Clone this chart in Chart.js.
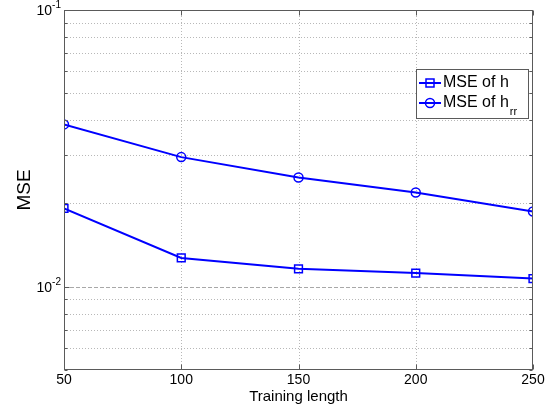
<!DOCTYPE html>
<html><head><meta charset="utf-8">
<script src="https://cdn.jsdelivr.net/npm/chart.js@4/dist/chart.umd.min.js"></script>
<style>html,body{margin:0;padding:0;background:#fff}#wrap{width:554px;height:410px}</style>
</head><body><div id="wrap"><canvas id="c" width="554" height="410"></canvas></div>
<script>
// ---- data ----
const trainingLengths = [50, 100, 150, 200, 250];
const mseH   = [0.0192, 0.0127, 0.0116, 0.0112, 0.0107];
const mseHrr = [0.0386, 0.0294, 0.0248, 0.0219, 0.0187];
const seriesNames = ['MSE of h', 'MSE of h'];
const seriesSubs  = ['', 'rr'];
const seriesMarkers = ['rect', 'circle'];
const xTicks = [50, 100, 150, 200, 250];
const yMajorTicks = [0.01, 0.1];
const yMinorTicks = [0.005, 0.006, 0.007, 0.008, 0.009, 0.02, 0.03, 0.04, 0.05, 0.06, 0.07, 0.08, 0.09];
const xTitle = 'Training length';
const yTitle = 'MSE';

const FONT = "'Liberation Sans', Arial, Helvetica, sans-serif";
const BLUE = '#0000ff';

function mkPoints(vals){ return trainingLengths.map((x,i)=>({x:x, y:vals[i]})); }

const matlabPlugin = {
  id: 'matlab',
  beforeDatasetsDraw(chart){
    const {ctx, chartArea:a, scales:{x, y}} = chart;
    const line=(x1,y1,x2,y2)=>{ctx.beginPath();ctx.moveTo(x1,y1);ctx.lineTo(x2,y2);ctx.stroke();};
    ctx.save();
    ctx.lineWidth = 1;
    ctx.strokeStyle = '#b8b8b8';
    ctx.setLineDash([1,2]);
    xTicks.forEach(v=>{
      if (v <= x.min || v >= x.max) return;
      const px = Math.round(x.getPixelForValue(v)) + 0.5;
      line(px, a.top, px, a.bottom);
    });
    yMinorTicks.forEach(v=>{
      if (v <= y.min || v >= y.max) return;
      const py = Math.round(y.getPixelForValue(v)) + 0.5;
      line(a.left, py, a.right, py);
    });
    ctx.setLineDash([4,2]);
    ctx.strokeStyle = '#a8a8a8';
    yMajorTicks.forEach(v=>{
      if (v <= y.min || v >= y.max) return;
      const py = Math.round(y.getPixelForValue(v)) + 0.5;
      line(a.left, py, a.right, py);
    });
    ctx.restore();
  },
  afterDraw(chart){
    const {ctx, chartArea:a, scales:{x, y}} = chart;
    const line=(x1,y1,x2,y2)=>{ctx.beginPath();ctx.moveTo(x1,y1);ctx.lineTo(x2,y2);ctx.stroke();};
    ctx.save();
    ctx.setLineDash([]);
    ctx.strokeStyle = '#5a5a5a';
    ctx.lineWidth = 1;
    const L = Math.round(a.left)+0.5, R = Math.round(a.right)-0.5, T = Math.round(a.top)+0.5, B = Math.round(a.bottom)-0.5;
    ctx.strokeRect(L, T, R-L, B-T);
    // y ticks
    yMinorTicks.forEach(v=>{
      const py = Math.round(y.getPixelForValue(v))+0.5;
      line(L, py, L+3, py); line(R, py, R-3, py);
    });
    yMajorTicks.forEach(v=>{
      const py = Math.round(y.getPixelForValue(v))+0.5;
      line(L, py, L+5, py); line(R, py, R-5, py);
    });
    xTicks.forEach(v=>{
      const px = Math.round(x.getPixelForValue(v))+0.5;
      line(px, B, px, B-5); line(px, T, px, T+5);
    });
    // y tick labels 10^n
    ctx.fillStyle = '#000';
    yMajorTicks.forEach(v=>{
      const py = y.getPixelForValue(v);
      const exp = String(Math.round(Math.log10(v)));
      ctx.font = '10px ' + FONT;
      const sw = ctx.measureText(exp).width;
      const xr = a.left - 3;
      ctx.textAlign = 'right'; ctx.textBaseline = 'alphabetic';
      ctx.fillText(exp, xr, py - 2);
      ctx.font = '14px ' + FONT;
      ctx.textBaseline = 'middle';
      ctx.fillText('10', xr - sw, py + 1);
    });
    // legend
    const lx = 416, ly = 69, lw = 113, lh = 50;
    ctx.fillStyle = '#fff';
    ctx.fillRect(lx, ly, lw, lh);
    ctx.strokeStyle = '#5a5a5a';
    ctx.strokeRect(lx+0.5, ly+0.5, lw-1, lh-1);
    chart.data.datasets.forEach((ds, i)=>{
      const ry = ly + 14 + i*20;
      ctx.strokeStyle = BLUE; ctx.lineWidth = 2;
      line(419, ry, 441, ry);
      ctx.lineWidth = 1.5;
      ctx.beginPath();
      if (seriesMarkers[i] === 'rect') ctx.rect(426, ry-4, 8, 8);
      else ctx.arc(430, ry, 4.5, 0, Math.PI*2);
      ctx.stroke();
      ctx.fillStyle = '#000';
      ctx.font = '16px ' + FONT;
      ctx.textAlign = 'left'; ctx.textBaseline = 'middle';
      ctx.fillText(seriesNames[i], 443, ry);
      if (seriesSubs[i]) {
        const w = ctx.measureText(seriesNames[i]).width;
        ctx.font = '11px ' + FONT;
        ctx.textBaseline = 'alphabetic';
        ctx.fillText(seriesSubs[i], 443 + w + 1, ry + 12);
      }
    });
    ctx.restore();
  }
};

new Chart(document.getElementById('c'), {
  type: 'line',
  data: {
    datasets: [
      { label: seriesNames[0] + seriesSubs[0], data: mkPoints(mseH), borderColor: BLUE, borderWidth: 2,
        pointStyle: seriesMarkers[0], pointRadius: 5.5, pointBorderWidth: 1.5, pointBorderColor: BLUE,
        pointBackgroundColor: 'rgba(0,0,0,0)', fill: false, tension: 0 },
      { label: seriesNames[1] + seriesSubs[1], data: mkPoints(mseHrr), borderColor: BLUE, borderWidth: 2,
        pointStyle: seriesMarkers[1], pointRadius: 4.5, pointBorderWidth: 1.5, pointBorderColor: BLUE,
        pointBackgroundColor: 'rgba(0,0,0,0)', fill: false, tension: 0 }
    ]
  },
  options: {
    responsive: false, animation: false, devicePixelRatio: 1,
    layout: { padding: { top: 10, right: 21, left: 0, bottom: 0 } },
    plugins: { legend: { display: false }, tooltip: { enabled: false } },
    scales: {
      x: {
        type: 'linear', min: 50, max: 250,
        afterBuildTicks: s => { s.ticks = xTicks.map(v=>({value:v})); },
        afterFit: s => { s.height = 40; },
        grid: { drawOnChartArea: false, drawTicks: false },
        border: { display: false },
        ticks: { color: '#000', font: { family: FONT, size: 14 }, padding: 2, maxRotation: 0, autoSkip: false },
        title: { display: true, text: xTitle, color: '#000', font: { family: FONT, size: 15 }, padding: { top: 0, bottom: 4 } }
      },
      y: {
        type: 'logarithmic', min: 0.005, max: 0.1,
        afterFit: s => { s.width = 64; },
        grid: { drawOnChartArea: false, drawTicks: false },
        border: { display: false },
        ticks: { display: false },
        title: { display: true, text: yTitle, color: '#000', font: { family: FONT, size: 19 }, padding: { top: 13, bottom: 0 } }
      }
    }
  },
  plugins: [matlabPlugin]
});
</script>
</body></html>
